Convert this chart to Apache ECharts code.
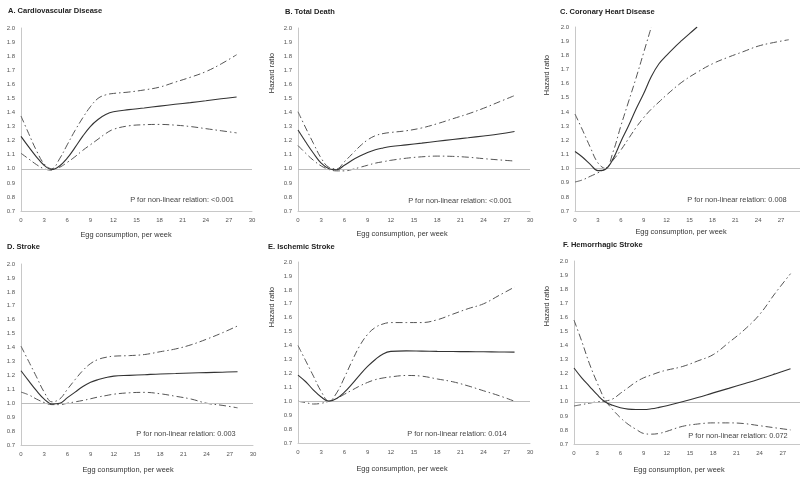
<!DOCTYPE html>
<html>
<head>
<meta charset="utf-8">
<script src="https://cdn.jsdelivr.net/npm/echarts@6/dist/echarts.min.js"></script>
<style>html,body{margin:0;padding:0;background:#fff}#c{width:800px;height:480px}</style>
</head>
<body>
<div id="c"></div>
<script>
// ---- data ----
const X = [0,1,2,3,4,5,6,7,8,9,10,11,12,14,16,18,20,22,24,26,28];
const X_C_SOLID = [0,1,2,3,4,5,6,7,8,9,10,11,12,13,14,15,16];
const X_C_UPPER = [0,1,2,3,4,5,6,7,8,9,10];
const X_TICKS = [0,3,6,9,12,15,18,21,24,27,30];
const Y_TICKS = [0.7,0.8,0.9,1.0,1.1,1.2,1.3,1.4,1.5,1.6,1.7,1.8,1.9,2.0];

const titles = ["A. Cardiovascular Disease","B. Total Death","C. Coronary Heart Disease","D. Stroke","E. Ischemic Stroke","F. Hemorrhagic Stroke"];
const pTexts = ["P for non-linear relation: <0.001","P for non-linear relation: <0.001","P for non-linear relation: 0.008","P for non-linear relation: 0.003","P for non-linear relation: 0.014","P for non-linear relation: 0.072"];
const xTitle = "Egg consumption, per week";
const yTitle = "Hazard ratio";

// A. Cardiovascular Disease
const A_hr    = [1.23,1.155,1.085,1.025,0.995,1.02,1.075,1.15,1.23,1.30,1.35,1.385,1.405,1.42,1.432,1.445,1.458,1.47,1.483,1.497,1.51];
const A_upper = [1.375,1.25,1.13,1.035,1.0,1.07,1.17,1.27,1.36,1.44,1.50,1.525,1.535,1.545,1.56,1.58,1.615,1.65,1.69,1.745,1.81];
const A_lower = [1.11,1.07,1.03,1.0,0.99,1.01,1.045,1.085,1.13,1.17,1.21,1.25,1.28,1.305,1.313,1.315,1.31,1.3,1.285,1.27,1.255];
// B. Total Death
const B_hr    = [1.275,1.19,1.11,1.04,1.0,0.993,1.025,1.06,1.09,1.115,1.135,1.148,1.158,1.17,1.182,1.195,1.208,1.22,1.233,1.247,1.265];
const B_upper = [1.405,1.29,1.18,1.075,1.01,1.0,1.05,1.105,1.16,1.205,1.235,1.25,1.258,1.27,1.29,1.32,1.355,1.39,1.43,1.475,1.52];
const B_lower = [1.165,1.11,1.06,1.02,0.995,0.985,0.985,0.995,1.01,1.025,1.04,1.05,1.06,1.075,1.085,1.09,1.088,1.082,1.072,1.063,1.055];
// C. Coronary Heart Disease
const C_hr    = [1.12,1.08,1.03,0.985,0.995,1.07,1.19,1.30,1.42,1.53,1.65,1.74,1.80,1.855,1.905,1.953,2.0];
const C_upper = [1.385,1.27,1.15,1.04,1.0,1.12,1.3,1.47,1.64,1.82,2.0];
const C_lower = [0.905,0.92,0.945,0.97,1.0,1.06,1.13,1.21,1.29,1.36,1.42,1.47,1.52,1.61,1.68,1.74,1.785,1.825,1.865,1.89,1.91];
// D. Stroke
const D_hr    = [1.233,1.16,1.09,1.03,0.995,1.0,1.04,1.08,1.12,1.15,1.17,1.185,1.195,1.2,1.205,1.21,1.213,1.217,1.22,1.223,1.226];
const D_upper = [1.41,1.3,1.19,1.08,1.01,1.03,1.1,1.17,1.235,1.285,1.315,1.33,1.338,1.342,1.35,1.37,1.39,1.42,1.46,1.505,1.555];
const D_lower = [1.08,1.06,1.03,1.005,0.99,0.99,1.0,1.01,1.02,1.032,1.045,1.055,1.065,1.075,1.078,1.068,1.05,1.03,1.0,0.985,0.967];
// E. Ischemic Stroke
const E_hr    = [1.188,1.14,1.08,1.03,1.0,1.02,1.065,1.125,1.19,1.25,1.3,1.34,1.358,1.362,1.36,1.358,1.357,1.356,1.355,1.354,1.353];
const E_upper = [1.40,1.29,1.18,1.07,1.0,1.06,1.17,1.29,1.40,1.48,1.53,1.555,1.565,1.565,1.565,1.585,1.625,1.665,1.70,1.76,1.82];
const E_lower = [1.0,0.99,0.98,0.985,1.0,1.02,1.05,1.08,1.11,1.135,1.155,1.167,1.175,1.185,1.18,1.16,1.14,1.11,1.075,1.04,1.0];
// F. Hemorrhagic Stroke
const F_hr    = [1.24,1.17,1.11,1.05,1.0,0.975,0.958,0.948,0.945,0.945,0.95,0.96,0.972,1.0,1.03,1.063,1.095,1.128,1.162,1.198,1.235];
const F_ci1   = [1.58,1.43,1.27,1.135,1.015,0.945,0.887,0.84,0.805,0.775,0.77,0.775,0.79,0.825,0.842,0.85,0.85,0.845,0.83,0.815,0.80];
const F_ci2   = [0.97,0.98,0.99,1.0,1.005,1.02,1.06,1.1,1.14,1.17,1.19,1.21,1.225,1.25,1.29,1.335,1.42,1.51,1.62,1.77,1.91];

const panels = [
  {hr:[X,A_hr], ci:[[X,A_upper],[X,A_lower]]},
  {hr:[X,B_hr], ci:[[X,B_upper],[X,B_lower]]},
  {hr:[X_C_SOLID,C_hr], ci:[[X_C_UPPER,C_upper],[X,C_lower]]},
  {hr:[X,D_hr], ci:[[X,D_upper],[X,D_lower]]},
  {hr:[X,E_hr], ci:[[X,E_upper],[X,E_lower]]},
  {hr:[X,F_hr], ci:[[X,F_ci1],[X,F_ci2]]}
];

// ---- layout (styles) ----
const grids = [
  {left:21, top:28, width:231, height:183},
  {left:298, top:28, width:232, height:183},
  {left:575, top:27, width:229, height:184},
  {left:21, top:264, width:232, height:181},
  {left:298, top:262, width:232, height:181},
  {left:574, top:261, width:232, height:183}
];
const titlePos = [[8,11],[285,12],[560,12],[7,247],[268,247],[563,245]];
const pPos = [[182,200],[460,201],[737,200],[186,434],[457,434],[738,436]];
const xTitlePos = [[126,235],[402,234],[681,232],[128,470],[402,469],[679,470]];
const yTitlePos = [null,[272,73],[547,75],null,[272,307],[547,306]];

const FONT = "'Liberation Sans', Arial, sans-serif";
const pair = (xs, ys) => ys.map((v,i)=>[xs[i], v]);

const option = {
  animation:false,
  backgroundColor:'#fff',
  grid: grids.map(g=>Object.assign({containLabel:false, outerBoundsMode:'none'}, g)),
  xAxis: grids.map((g,i)=>({
    type:'value', gridIndex:i, min:X_TICKS[0], max:X_TICKS[X_TICKS.length-1], interval:3,
    axisLine:{show:true, lineStyle:{color:'#c8c8c8', width:1}},
    axisTick:{show:false}, splitLine:{show:false},
    axisLabel:{fontSize:6, color:'#555', margin:6, fontFamily:FONT}
  })),
  yAxis: grids.map((g,i)=>({
    type:'value', gridIndex:i, min:Y_TICKS[0], max:Y_TICKS[Y_TICKS.length-1], interval:0.1,
    axisLine:{show:true, lineStyle:{color:'#c8c8c8', width:1}},
    axisTick:{show:false}, splitLine:{show:false},
    axisLabel:{fontSize:6, color:'#555', margin:6, fontFamily:FONT, formatter:v=>v.toFixed(1)}
  })),
  series: [],
  graphic: []
};

panels.forEach((p,i)=>{
  option.series.push({
    type:'line', xAxisIndex:i, yAxisIndex:i, data:pair(p.hr[0],p.hr[1]),
    smooth:0.4, showSymbol:false, symbol:'none', z:5,
    lineStyle:{color:'#333', width:1.1, type:'solid'},
    markLine:{silent:true, symbol:'none', label:{show:false}, animation:false,
      lineStyle:{color:'#bdbdbd', width:1.2, type:'solid'}, data:[{yAxis:1}]}
  });
  p.ci.forEach(c=>{
    option.series.push({
      type:'line', xAxisIndex:i, yAxisIndex:i, data:pair(c[0],c[1]),
      smooth:0.4, showSymbol:false, symbol:'none', z:4,
      lineStyle:{color:'#555', width:1, type:[7,3,1.5,3]}
    });
  });
  option.graphic.push({type:'text', x:titlePos[i][0], y:titlePos[i][1],
    style:{text:titles[i], fontSize:7.5, fontWeight:'bold', fontFamily:FONT, fill:'#222', align:'left', verticalAlign:'middle'}});
  option.graphic.push({type:'text', x:pPos[i][0], y:pPos[i][1],
    style:{text:pTexts[i], fontSize:7.4, fontFamily:FONT, fill:'#444', align:'center', verticalAlign:'middle'}});
  option.graphic.push({type:'text', x:xTitlePos[i][0], y:xTitlePos[i][1],
    style:{text:xTitle, fontSize:7.4, fontFamily:FONT, fill:'#333', align:'center', verticalAlign:'middle'}});
  if (yTitlePos[i]) {
    option.graphic.push({type:'text', x:yTitlePos[i][0], y:yTitlePos[i][1], rotation:Math.PI/2,
      style:{text:yTitle, fontSize:7.4, fontFamily:FONT, fill:'#333', align:'center', verticalAlign:'middle'}});
  }
});

const chart = echarts.init(document.getElementById('c'), null, {renderer:'canvas'});
chart.setOption(option);
</script>
</body>
</html>
